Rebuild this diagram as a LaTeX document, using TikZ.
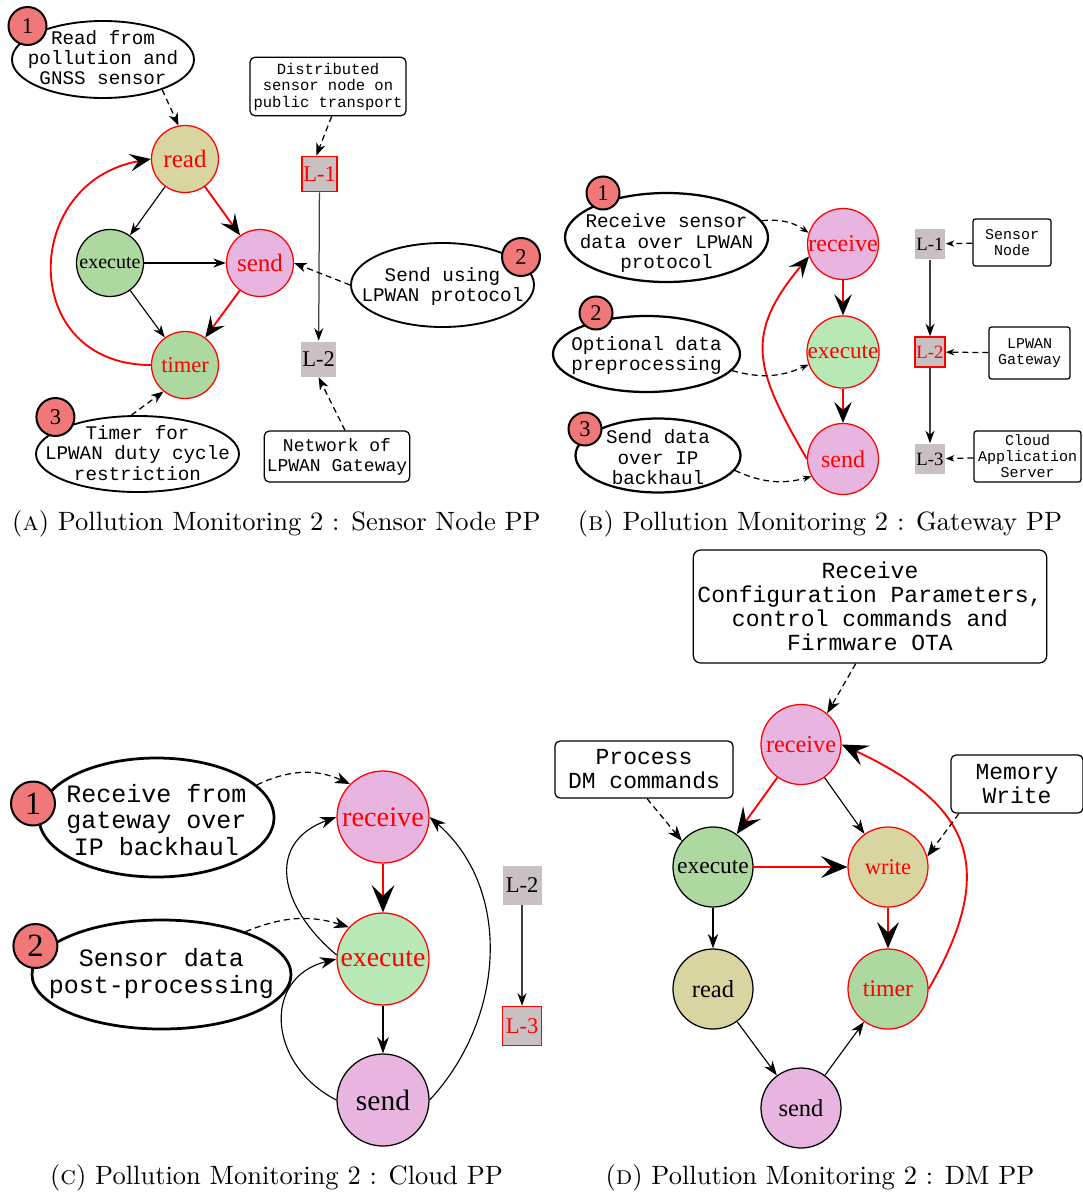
\documentclass[tikz,border=0pt]{standalone}
\usepackage{fontspec}
\setmonofont{Liberation Mono}
\newfontfamily\labelfont{Liberation Serif}
\usetikzlibrary{shapes.geometric,arrows.meta}

\definecolor{badgered}{RGB}{240,120,120}
\definecolor{readtan}{RGB}{217,213,160}
\definecolor{leaf}{RGB}{173,216,160}
\definecolor{mint}{RGB}{184,232,182}
\definecolor{orchid}{RGB}{232,180,224}
\definecolor{lvlgray}{RGB}{201,193,193}

% text set inside an ellipse without making it grow
\newcommand{\ovtext}[2][0pt]{\makebox[0pt]{\smash{\raisebox{\dimexpr-0.25em-#1\relax}{\begin{tabular}{@{}c@{}}#2\end{tabular}}}}}

\begin{document}
\begin{tikzpicture}[x=0.4pt, y=0.4pt,
  lbl/.style={font=\labelfont\fontsize{#1}{#1}\selectfont},
  mono/.style 2 args={font=\ttfamily\fontsize{#1}{#2}\selectfont},
  proc/.style={circle, draw, line width=0.5pt, inner sep=0pt},
  hot/.style={draw=red, text=red},
  lvl/.style={rectangle, fill=lvlgray, inner sep=0pt, line width=0.6pt},
  oval/.style={ellipse, draw, inner sep=0pt, line width=#1},
  oval/.default=0.75pt,
  badge/.style={circle, draw, line width=0.8pt, fill=badgered, inner sep=0pt},
  note/.style={rectangle, draw, rounded corners=2pt, line width=0.5pt, align=center, inner sep=1pt},
  caption/.style={font=\fontsize{10.6pt}{12pt}\selectfont},
  flow/.style={line width=0.45pt, -{Stealth[length=5pt,width=3.6pt,inset=1.6pt,scale=#1]}},
  flow/.default=1,
  hotflow/.style={red, line width=0.75pt, -{Stealth[length=8.4pt,width=7pt,inset=3.3pt,color=black,scale=#1]}},
  hotflow/.default=1,
  hint/.style={line width=0.5pt, dash pattern=on 2.4pt off 1.6pt, -{Stealth[length=4pt,width=3pt,inset=1.2pt,scale=#1]}},
  hint/.default=1,
  lvlflow/.style={black!75, line width=0.5pt, -{Stealth[length=5pt,width=3.6pt,inset=1.6pt,color=black]}}]
\useasboundingbox (0,0) rectangle (1083,-1193);

% (a) sensor node
\node[oval, mono={7.7pt}{8.1pt}, minimum width=72.8pt, minimum height=30.8pt] (a-o1) at (103,-59.5) {\ovtext[0.4pt]{Read from\\pollution and\\GNSS sensor}};
\node[badge, minimum size=15.2pt, lbl=9pt] (a-n1) at (27.5,-26) {1};
\node[oval, mono={7.7pt}{8.1pt}, minimum width=73.2pt, minimum height=33.6pt] (a-o2) at (442.5,-285) {\ovtext[1pt]{Send using\\LPWAN protocol}};
\node[badge, minimum size=15.2pt, lbl=9pt] (a-n2) at (521,-257) {2};
\node[oval, mono={7.7pt}{8.1pt}, minimum width=81.2pt, minimum height=30.4pt] (a-o3) at (137.5,-454) {\ovtext[0.8pt]{Timer for\\LPWAN duty cycle\\restriction}};
\node[badge, minimum size=15.2pt, lbl=9pt] (a-n3) at (55.4,-417) {3};

\node[proc, hot, fill=readtan, minimum size=26.8pt, lbl=10pt] (a-read) at (185,-159) {read};
\node[proc, fill=leaf, minimum size=26.8pt, lbl=8pt] (a-exec) at (110,-263) {execute};
\node[proc, hot, fill=orchid, minimum size=26.8pt, lbl=10pt] (a-send) at (260,-263) {send};
\node[proc, hot, fill=leaf, minimum size=26.8pt, lbl=9pt] (a-timer) at (185,-365) {timer};

\node[note, mono={6.2pt}{6.6pt}, minimum width=62.4pt, minimum height=23.4pt] (a-dist) at (328,-86.5) {Distributed\\sensor node on\\public transport};
\node[note, mono={7.2pt}{8pt}, minimum width=57.6pt, minimum height=20.4pt] (a-net) at (337,-456.5) {Network of\\LPWAN Gateway};
\node[lvl, hot, minimum size=14pt, lbl=9pt] (a-l1) at (319.5,-174) {L-1};
\node[lvl, minimum size=14pt, lbl=9pt] (a-l2) at (318.6,-359) {L-2};

\draw[flow] (a-read) -- (a-exec);
\draw[hotflow] (a-read) -- (a-send);
\draw[flow] (a-exec) -- (a-send);
\draw[flow] (a-exec) -- (a-timer);
\draw[hotflow] (a-send) -- (a-timer);
\draw[hotflow] (a-timer.west) to[out=180,in=190,looseness=1.65] (a-read.west);
\draw[lvlflow] (a-l1) -- (a-l2);
\draw[hint=1.25] (a-o1.-27) -- (a-read.101);
\draw[hint=1.25] (a-o2.west) -- (a-send.east);
\draw[hint=1.25] (a-o3.99) -- (a-timer.-129);
\draw[hint=1.25] (a-dist.-83) -- (a-l1.100);
\draw[hint=1.25] (a-net.73) -- (a-l2.south);

\node[caption] (cap-a) at (276.5,-524) {(\textsc{a}) Pollution Monitoring 2 : Sensor Node PP};

% (b) gateway
\node[oval=0.9pt, mono={7.7pt}{8.2pt}, minimum width=81.2pt, minimum height=35.6pt] (b-o1) at (666.5,-237.5) {\ovtext[2.8pt]{Receive sensor\\data over LPWAN\\protocol}};
\node[badge, minimum size=13.2pt, lbl=9pt] (b-n1) at (603,-193) {1};
\node[oval=0.9pt, mono={7.7pt}{8.2pt}, minimum width=74.8pt, minimum height=30.4pt] (b-o2) at (646.5,-354) {\ovtext[1pt]{Optional data\\preprocessing}};
\node[badge, minimum size=13.2pt, lbl=9pt] (b-n2) at (596,-313) {2};
\node[oval=0.9pt, mono={7.7pt}{8.2pt}, minimum width=66pt, minimum height=29.6pt] (b-o3) at (658,-455.5) {\ovtext[2pt]{Send data\\over IP\\backhaul}};
\node[badge, minimum size=13.2pt, lbl=9pt] (b-n3) at (585,-429) {3};

\node[proc, hot, fill=orchid, minimum size=28.4pt, lbl=9.6pt] (b-recv) at (843,-244) {receive};
\node[proc, hot, fill=mint, minimum size=28.4pt, lbl=9.3pt] (b-exec) at (843,-352) {execute};
\node[proc, hot, fill=orchid, minimum size=28.4pt, lbl=9.6pt] (b-send) at (843,-459) {send};

\node[lvl, minimum size=12pt, lbl=7.5pt] (b-l1) at (930,-244) {L-1};
\node[lvl, hot, minimum size=12pt, lbl=7.5pt] (b-l2) at (930,-352) {L-2};
\node[lvl, minimum size=12pt, lbl=7.5pt] (b-l3) at (930,-459) {L-3};
\node[note, rounded corners=1pt, mono={6pt}{6.4pt}, minimum width=31.2pt, minimum height=18.8pt] (b-sn) at (1012,-242.5) {Sensor\\Node};
\node[note, rounded corners=1pt, mono={6pt}{6.4pt}, minimum width=32.4pt, minimum height=20.8pt] (b-gw) at (1029.5,-353) {LPWAN\\Gateway};
\node[note, rounded corners=1pt, mono={6pt}{6.4pt}, minimum width=42.8pt, minimum height=20.4pt] (b-cas) at (1027.5,-456.5) {Cloud\\Application\\Server};

\draw[hotflow] (b-recv) -- (b-exec);
\draw[hotflow] (b-exec) -- (b-send);
\draw[hotflow] (b-send.west) to[out=120,in=230,looseness=1.3] (b-recv.200);
\draw[lvlflow] (b-l1) -- (b-l2);
\draw[lvlflow] (b-l2) -- (b-l3);
\draw[hint=0.85] (b-sn) -- (b-l1);
\draw[hint=0.85] (b-gw) -- (b-l2);
\draw[hint=0.85] (b-cas) -- (b-l3);
\draw[hint=0.85] (b-o1.10) to[bend left=20] (b-recv.162);
\draw[hint=0.85] (b-o2.-11) to[bend right=20] (b-exec.200);
\draw[hint=0.85] (b-o3.-11) to[bend right=20] (b-send.209);

\node[caption] (cap-b) at (820,-524) {(\textsc{b}) Pollution Monitoring 2 : Gateway PP};

% (c) cloud
\node[oval=1.1pt, mono={10pt}{10.6pt}, minimum width=94pt, minimum height=47.6pt] (c-o1) at (156.5,-817.5) {\ovtext[2.4pt]{Receive from\\gateway over\\IP backhaul}};
\node[badge, minimum size=17.6pt, lbl=13pt] (c-n1) at (33,-803.5) {1};
\node[oval=1.1pt, mono={10pt}{10.6pt}, minimum width=103.6pt, minimum height=43.6pt] (c-o2) at (161.5,-974.5) {\ovtext{Sensor data\\post-processing}};
\node[badge, minimum size=17.6pt, lbl=13pt] (c-n2) at (35.4,-946) {2};

\node[proc, hot, fill=orchid, minimum size=36.8pt, lbl=11.3pt] (c-recv) at (383,-817) {receive};
\node[proc, hot, fill=mint, minimum size=36.8pt, lbl=11.1pt] (c-exec) at (383,-959) {execute};
\node[proc, fill=orchid, minimum size=36.8pt, lbl=11.8pt] (c-send) at (383,-1100) {send};
\node[lvl, minimum size=15.6pt, lbl=9pt] (c-l2) at (522,-885) {L-2};
\node[lvl, hot, minimum size=15.6pt, lbl=9pt] (c-l3) at (522,-1026) {L-3};

\draw[hotflow=1.3] (c-recv) -- (c-exec);
\draw[flow=1.3] (c-exec) -- (c-send);
\draw[flow=1.3] (c-exec.175) to[out=140,in=200,looseness=1.4] (c-recv.west);
\draw[flow=1.3] (c-send.west) to[out=153,in=194,looseness=1.4] (c-exec.west);
\draw[flow=1.3] (c-send.east) to[out=47,in=-41] (c-recv.east);
\draw[lvlflow] (c-l2) -- (c-l3);
\draw[hint=1.5] (c-o1.18) to[bend left=25] (c-recv.135);
\draw[hint=1.5] (c-o2.27) to[bend left=20] (c-exec.137);

\node[caption] (cap-c) at (276.5,-1178) {(\textsc{c}) Pollution Monitoring 2 : Cloud PP};

% (d) device management
\node[note, rounded corners=3pt, mono={9.2pt}{9.6pt}, minimum width=141.4pt, minimum height=45.2pt] (d-cfg) at (870,-606.5) {Receive\\Configuration Parameters,\\control commands and\\Firmware OTA};
\node[note, rounded corners=2pt, mono={9.2pt}{9.6pt}, minimum width=71.2pt, minimum height=22.8pt] (d-proc) at (644,-769.5) {Process\\DM commands};
\node[note, rounded corners=2pt, mono={9.2pt}{9.6pt}, minimum width=52.8pt, minimum height=23.2pt] (d-mem) at (1017,-784) {Memory\\Write};

\node[proc, hot, fill=orchid, minimum size=32pt, lbl=9.7pt] (d-recv) at (801,-744.5) {receive};
\node[proc, fill=leaf, minimum size=32pt, lbl=9.4pt] (d-exec) at (713,-867) {execute};
\node[proc, hot, fill=readtan, minimum size=32pt, lbl=9pt] (d-write) at (888,-867) {write};
\node[proc, fill=readtan, minimum size=32pt, lbl=9.8pt] (d-read) at (713,-989) {read};
\node[proc, hot, fill=leaf, minimum size=32pt, lbl=9.5pt] (d-timer) at (888,-989) {timer};
\node[proc, fill=orchid, minimum size=32pt, lbl=9.8pt] (d-send) at (801,-1108) {send};

\draw[hotflow=1.25] (d-recv) -- (d-exec);
\draw[flow=1.15] (d-recv) -- (d-write);
\draw[hotflow=1.25] (d-exec) -- (d-write);
\draw[flow=1.15] (d-exec) -- (d-read);
\draw[hotflow=1.25] (d-write) -- (d-timer);
\draw[hotflow=1.25] (d-timer.east) to[out=60,in=-25,looseness=1.4] (d-recv.east);
\draw[flow=1.15] (d-read) -- (d-send);
\draw[flow=1.15] (d-send) -- (d-timer);
\draw[hint=1.5] (d-cfg.-104) -- (d-recv.50);
\draw[hint=1.5] (d-proc.-84) -- (d-exec.140);
\draw[hint=1.5] (d-mem.-153) -- (d-write.15);

\node[caption] (cap-d) at (820,-1178) {(\textsc{d}) Pollution Monitoring 2 : DM PP};
\end{tikzpicture}
\end{document}
